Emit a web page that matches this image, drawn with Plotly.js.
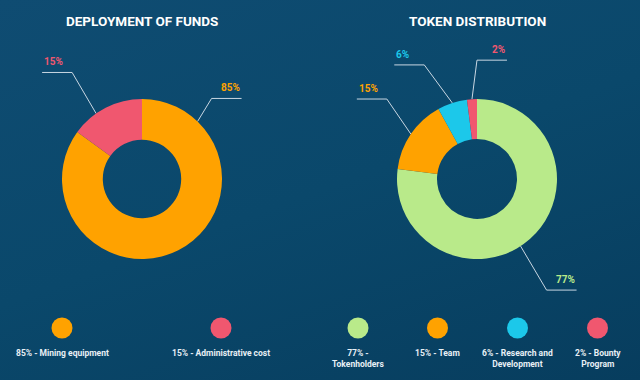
<!DOCTYPE html>
<html>
<head>
<meta charset="utf-8">
<script src="https://cdn.plot.ly/plotly-3.0.1.min.js"></script>
<style>
html,body{margin:0;padding:0;}
#chart{width:640px;height:380px;background:linear-gradient(160deg,#0f4c72 0%,#0a486b 50%,#073d5e 100%);}
</style>
</head>
<body>
<div id="chart"></div>
<script>
// ---- data ----
const fundsTitle = 'DEPLOYMENT OF FUNDS';
const fundsLabels = ['Mining equipment', 'Administrative cost'];
const fundsValues = [85, 15];
const fundsLegendText = ['85% - Mining equipment', '15% - Administrative cost'];

const tokenTitle = 'TOKEN DISTRIBUTION';
const tokenLabels = ['Tokenholders', 'Team', 'Research and Development', 'Bounty Program'];
const tokenValues = [77, 15, 6, 2];
const tokenLegendText = ['77% -<br>Tokenholders', '15% - Team', '6% - Research and<br>Development', '2% - Bounty<br>Program'];

// ---- styles / layout config ----
const fundsColors = ['#ffa200', '#f0576f'];
const tokenColors = ['#b9ea8a', '#ffa200', '#1cc8ea', '#f0576f'];
const W = 640, H = 380;
const charts = [
  {title: fundsTitle, labels: fundsLabels, values: fundsValues, colors: fundsColors, legend: fundsLegendText,
   cx: 142, cy: 179, r: 80, hole: 0.49,
   labelAngle: [44, -35], elbow: [[14, -23], [-24, -41]],
   legendX: [62, 221]},
  {title: tokenTitle, labels: tokenLabels, values: tokenValues, colors: tokenColors, legend: tokenLegendText,
   cx: 477, cy: 179, r: 80, hole: 0.5,
   labelAngle: [147, null, null, null], elbow: [[26, 44], [-24, -35], [-28, -38], [5, -39]],
   legendX: [358, 437.5, 517.5, 597.5]}
];
const legendY = 328, legendTextY = 346, hLen = 30;
const FONT = 'Roboto, sans-serif';

const traces = [], annotations = [];
charts.forEach(c => {
  traces.push({
    type: 'pie', values: c.values, labels: c.labels, sort: false, direction: 'clockwise', rotation: 0,
    hole: c.hole, marker: {colors: c.colors, line: {width: 0}}, textinfo: 'none', hoverinfo: 'label+percent',
    showlegend: false,
    domain: {x: [(c.cx - c.r) / W, (c.cx + c.r) / W], y: [1 - (c.cy + c.r) / H, 1 - (c.cy - c.r) / H]}
  });
  annotations.push({xref: 'x', yref: 'y', x: c.cx, y: 21, text: '<b>' + c.title + '</b>', showarrow: false,
    font: {family: FONT, size: 13.5, color: '#ffffff'}, xanchor: 'center', yanchor: 'middle'});
  const total = c.values.reduce((a, b) => a + b, 0);
  let cum = 0;
  c.values.forEach((v, i) => {
    const mid = (cum + v / 2) / total * 360;
    cum += v;
    const ang = (c.labelAngle[i] == null ? mid : c.labelAngle[i]) * Math.PI / 180;
    const sx = c.cx + c.r * Math.sin(ang), sy = c.cy - c.r * Math.cos(ang);
    const ex = sx + c.elbow[i][0], ey = sy + c.elbow[i][1];
    const dir = c.elbow[i][0] >= 0 ? 1 : -1;
    const tx = ex + dir * hLen;
    traces.push({type: 'scatter', mode: 'lines', x: [sx, ex, tx], y: [sy, ey, ey], xaxis: 'x', yaxis: 'y',
      line: {color: '#c9d7e3', width: 1}, hoverinfo: 'skip', showlegend: false});
    annotations.push({xref: 'x', yref: 'y', x: tx, y: ey - 3, text: '<b>' + v + '%</b>', showarrow: false,
      xanchor: dir > 0 ? 'right' : 'left', yanchor: 'bottom',
      font: {family: FONT, size: 10, color: c.colors[i]}});
    annotations.push({xref: 'x', yref: 'y', x: c.legendX[i], y: legendTextY, text: '<b>' + c.legend[i] + '</b>', showarrow: false,
      xanchor: 'center', yanchor: 'top', align: 'center',
      font: {family: FONT, size: 8.5, color: '#e8f0f6'}});
  });
  traces.push({type: 'scatter', mode: 'markers', x: c.legendX, y: c.legendX.map(() => legendY), xaxis: 'x', yaxis: 'y',
    marker: {size: 21, color: c.colors, line: {width: 0}}, hovertext: c.labels, hoverinfo: 'text', showlegend: false});
});

const layout = {
  width: W, height: H, margin: {l: 0, r: 0, t: 0, b: 0},
  paper_bgcolor: 'rgba(0,0,0,0)', plot_bgcolor: 'rgba(0,0,0,0)',
  xaxis: {range: [0, W], visible: false, fixedrange: true},
  yaxis: {range: [H, 0], visible: false, fixedrange: true},
  annotations: annotations, showlegend: false
};
Plotly.newPlot('chart', traces, layout, {displayModeBar: false, staticPlot: true});
</script>
</body>
</html>
